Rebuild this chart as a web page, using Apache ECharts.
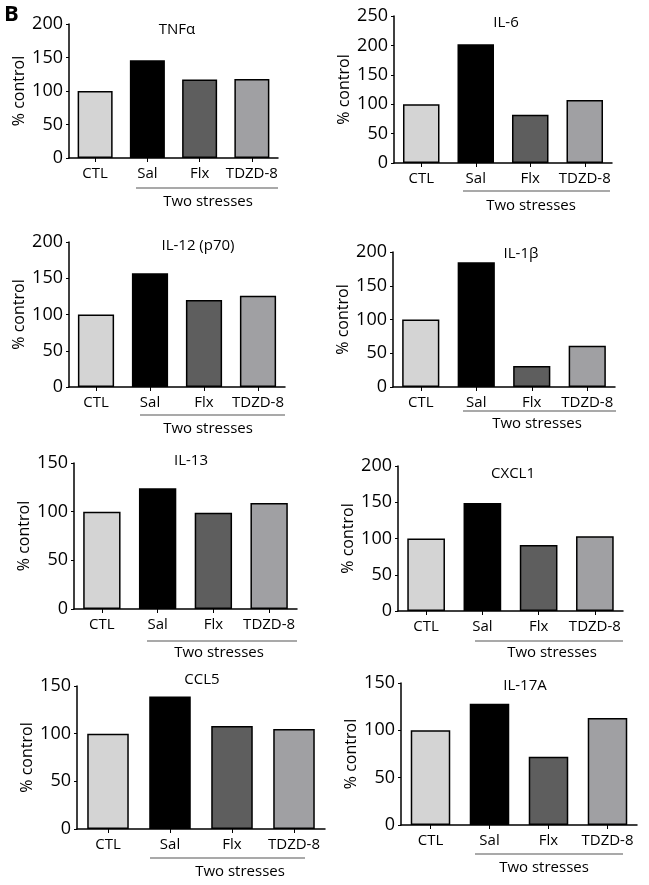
<!DOCTYPE html>
<html>
<head>
<meta charset="utf-8">
<script src="https://cdn.jsdelivr.net/npm/echarts@6/dist/echarts.min.js"></script>
<style>
html,body{margin:0;padding:0;background:#fff;}
#c{width:649px;height:885px;}
</style>
</head>
<body>
<div id="c"></div>
<script>
// ---- data ----
const categories = ['CTL', 'Sal', 'Flx', 'TDZD-8'];
const panelTitles = ['TNFα', 'IL-6', 'IL-12 (p70)', 'IL-1β', 'IL-13', 'CXCL1', 'CCL5', 'IL-17A'];
const tnfa  = [100, 146, 117, 118];
const il6   = [100, 202, 82, 107];
const il12  = [100, 157, 120, 126];
const il1b  = [100, 185, 31, 61];
const il13  = [100, 124, 99, 109];
const cxcl1 = [100, 149, 91, 103];
const ccl5  = [100, 139, 108, 105];
const il17a = [100, 128, 72, 113];
const yMax  = [200, 250, 200, 200, 150, 200, 150, 150];
const yStep = 50;
const yAxisName = '% control';
const groupLabel = 'Two stresses';

// ---- layout / style ----
const seriesData = [tnfa, il6, il12, il1b, il13, cxcl1, ccl5, il17a];
const barColors = ['#d4d4d4', '#000000', '#5e5e5e', '#a0a0a3'];
const FONT = '"Open Sans", sans-serif';
const TXT = '#000';
// [left, top(max), right, bottom(0)]
const boxes = [
  [69, 24, 278, 158],
  [394, 16, 612, 163],
  [69, 242, 285, 387],
  [393, 252, 615, 387],
  [74, 463, 297, 609],
  [398, 466, 623, 611],
  [77, 686, 325, 829],
  [401, 683, 637, 825]
];
// title center [x, y]
const titlePos = [[172, 27], [501, 20], [193, 243], [516, 251], [186, 458], [508, 471], [197, 677], [520, 683]];
// underline [x1, x2, y], group label [cx, cy]
const underline = [
  [136, 278, 188, 208, 202],
  [463, 610, 191, 531, 206],
  [140, 285, 415, 208, 429],
  [463, 616, 411, 537, 424],
  [147, 297, 641, 219, 653],
  [475, 623, 641, 552, 653],
  [150, 305, 858, 240, 872],
  [475, 623, 854, 544, 868]
];

const chart = echarts.init(document.getElementById('c'), null, {renderer: 'canvas'});

const grids = [], xAxes = [], yAxes = [], series = [], titles = [], graphics = [];
boxes.forEach((b, i) => {
  grids.push({left: b[0], top: b[1], width: b[2] - b[0], height: b[3] - b[1], containLabel: false});
  xAxes.push({
    type: 'category', gridIndex: i, data: categories,
    axisLine: {lineStyle: {color: '#000', width: 1.5}},
    axisTick: {show: true, alignWithLabel: true, length: 4, lineStyle: {color: '#000', width: 1}},
    axisLabel: {color: TXT, fontFamily: FONT, fontSize: 15, margin: 8, interval: 0},
    splitLine: {show: false}
  });
  yAxes.push({
    type: 'value', gridIndex: i, min: 0, max: yMax[i], interval: yStep,
    name: yAxisName, nameLocation: 'middle', nameGap: 42, nameRotate: 90,
    nameTextStyle: {color: TXT, fontFamily: FONT, fontSize: 16},
    axisLine: {show: true, lineStyle: {color: '#000', width: 1.5}},
    axisTick: {show: true, length: 3, lineStyle: {color: '#000'}},
    axisLabel: {color: TXT, fontFamily: FONT, fontSize: 18, margin: 6},
    splitLine: {show: false}
  });
  series.push({
    type: 'bar', xAxisIndex: i, yAxisIndex: i,
    barCategoryGap: '33%',
    data: seriesData[i].map((v, k) => ({value: v, itemStyle: {color: barColors[k]}})),
    itemStyle: {borderColor: '#000', borderWidth: 1.5},
    silent: true
  });
  titles.push({
    text: panelTitles[i], left: titlePos[i][0], top: titlePos[i][1] - 10, textAlign: 'center',
    textStyle: {fontFamily: FONT, fontSize: 15, fontWeight: 'normal', color: TXT}
  });
  const u = underline[i];
  graphics.push({type: 'line', shape: {x1: u[0], y1: u[2], x2: u[1], y2: u[2]}, style: {stroke: '#555', lineWidth: 1.2}});
  graphics.push({type: 'text', x: u[3], y: u[4], style: {text: groupLabel, font: '15px ' + FONT, fill: TXT, textAlign: 'center', textVerticalAlign: 'middle'}});
});
graphics.push({type: 'text', x: 4, y: 4, style: {text: 'B', font: 'bold 22px ' + FONT, fill: '#000', textAlign: 'left', textVerticalAlign: 'top'}});

chart.setOption({
  animation: false,
  backgroundColor: '#fff',
  title: titles,
  grid: grids,
  xAxis: xAxes,
  yAxis: yAxes,
  series: series,
  graphic: graphics
});
</script>
</body>
</html>
